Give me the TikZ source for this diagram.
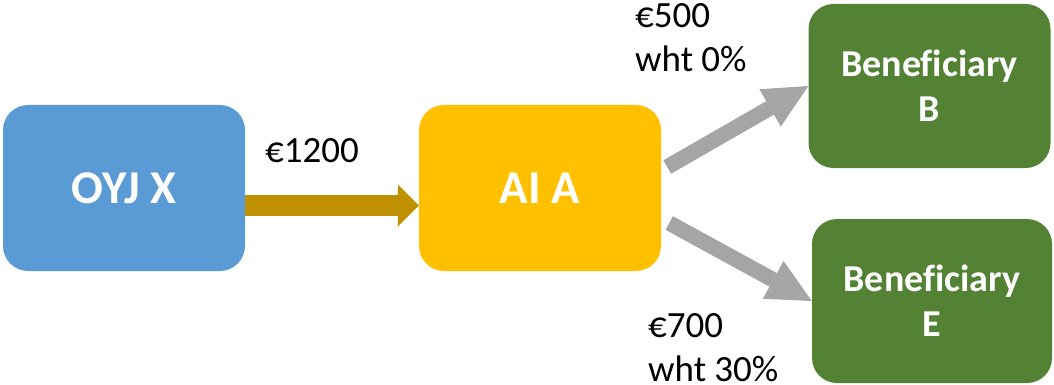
\documentclass[tikz,border=0pt]{standalone}
\usepackage{fontspec}
\setmainfont{Carlito}[Ligatures=NoCommon]
\usetikzlibrary{arrows.meta}

\definecolor{boxblue}{HTML}{5B9BD5}
\definecolor{boxgold}{HTML}{FFC000}
\definecolor{boxgreen}{HTML}{548235}
\definecolor{flowgold}{HTML}{BF9000}
\definecolor{flowgray}{HTML}{A5A5A5}

\tikzset{
  party/.style={rounded corners=25pt, inner sep=0pt, text=white, align=center,
    font=\bfseries\fontsize{47}{56}\selectfont},
  benef/.style={party, minimum width=242pt, minimum height=164pt,
    fill=boxgreen, font=\bfseries\fontsize{38}{45}\selectfont},
  % base anchor of a multi-line amount sits on its last line
  amount/.style={inner sep=0pt, anchor=base west, align=left,
    font=\fontsize{37}{44}\selectfont},
  mainflow/.style={draw=flowgold, line width=21pt,
    -{Triangle[width=42pt, length=21pt, line width=0pt, fill=flowgold]}},
  sideflow/.style={draw=flowgray, line width=15.5pt,
    -{Triangle[width=43pt, length=44pt, line width=0pt, fill=flowgray]}}
}

\begin{document}
\begin{tikzpicture}[x=1pt, y=-1pt]
  \useasboundingbox (0,0) rectangle (1054,385);

  % entities
  \node[party, fill=boxblue, minimum width=242pt, minimum height=166pt]
    (oyj) at (124,188) {OYJ X};
  \node[party, fill=boxgold, minimum width=242pt, minimum height=166pt]
    (ai) at (540,188) {AI A};
  \node[benef] (benb) at (929.5,86) {Beneficiary\\B};
  \node[benef, minimum width=240pt] (bene) at (932,301) {Beneficiary\\E};

  % payment flows
  \draw[mainflow] ([yshift=-17.5pt]oyj.east) -- ([yshift=-17.5pt]ai.west);
  \draw[sideflow] ([xshift=6pt, yshift=21pt]ai.east) -- (benb.west);
  \draw[sideflow] ([xshift=8pt, yshift=-35pt]ai.east) -- (bene.west);

  % amounts
  \node[amount] (a1200) at (265,162) {€1200};
  \node[amount] (a500) at (635,72) {€500\\wht 0\%};
  \node[amount] (a700) at (648,381) {€700\\wht 30\%};
\end{tikzpicture}
\end{document}
